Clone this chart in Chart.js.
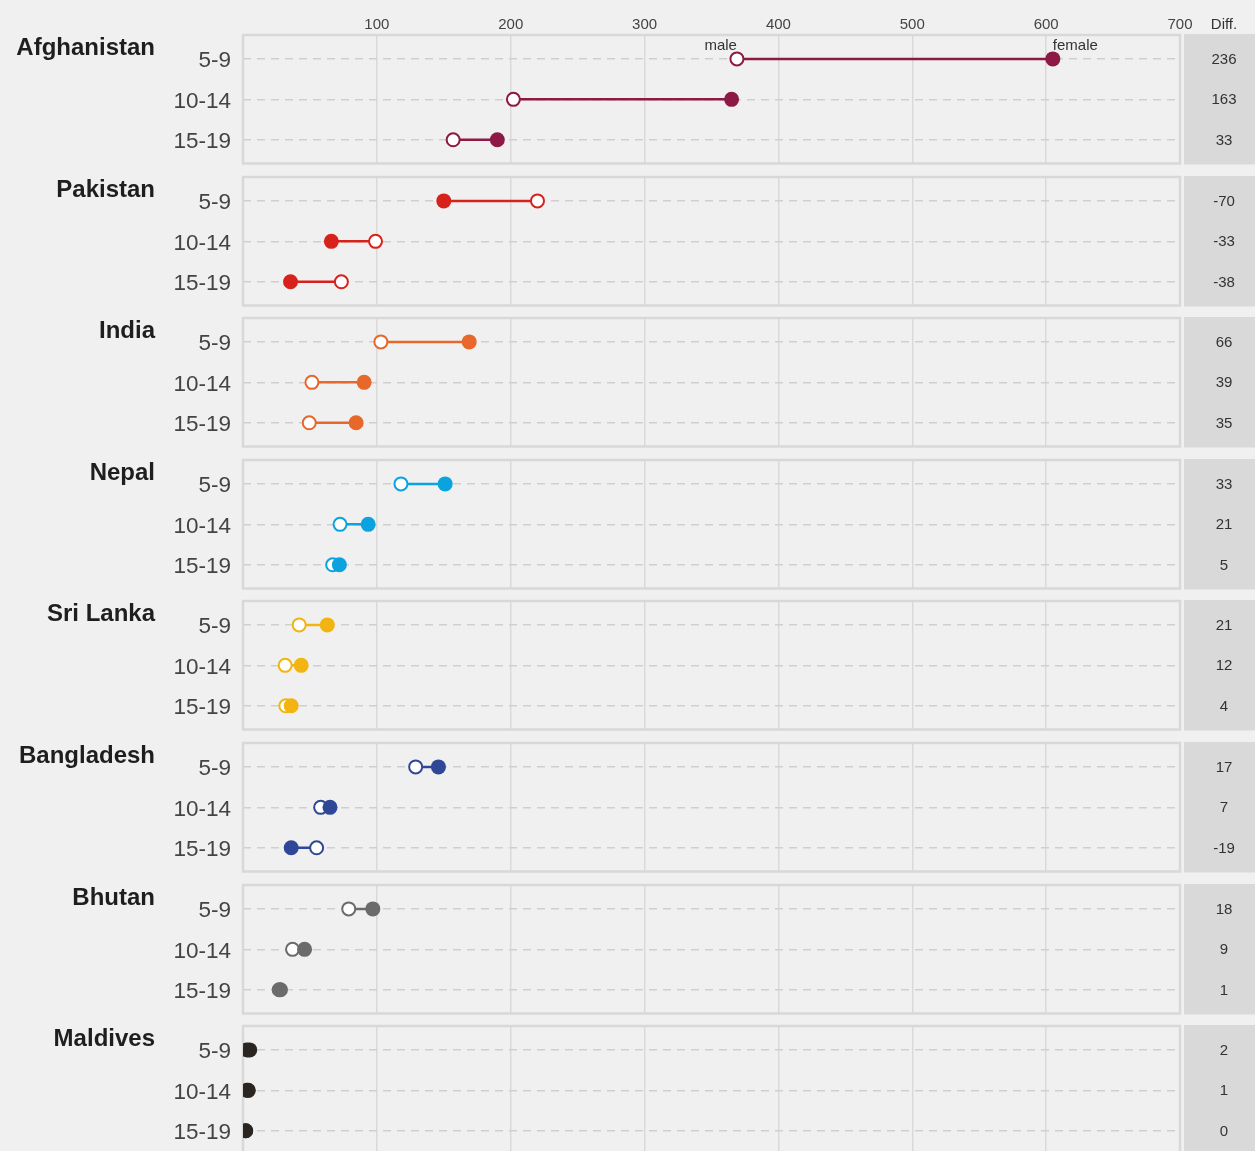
<!DOCTYPE html>
<html><head><meta charset="utf-8">
<script src="https://cdn.jsdelivr.net/npm/chart.js@4/dist/chart.umd.min.js"></script>
<style>
html,body{margin:0;padding:0;background:#f0f0f0;width:1255px;height:1151px;overflow:hidden;}
.p{position:absolute;left:0;width:1255px;height:189px;}
canvas{display:block;}
</style></head><body>
<script>
// ---- data ----
const countries = ['Afghanistan','Pakistan','India','Nepal','Sri Lanka','Bangladesh','Bhutan','Maldives'];
const ageGroups = ['5-9','10-14','15-19'];
const xTickValues = [0,100,200,300,400,500,600,700];
const seriesNames = ['male','female'];
const diffHeader = 'Diff.';

const afghanistanMale   = [369, 202, 157];
const afghanistanFemale = [605, 365, 190];
const pakistanMale      = [220, 99, 73.5];
const pakistanFemale    = [150, 66, 35.5];
const indiaMale         = [103, 51.5, 49.5];
const indiaFemale       = [169, 90.5, 84.5];
const nepalMale         = [118, 72.5, 67];
const nepalFemale       = [151, 93.5, 72];
const sriLankaMale      = [42, 31.5, 32];
const sriLankaFemale    = [63, 43.5, 36];
const bangladeshMale    = [129, 58, 55];
const bangladeshFemale  = [146, 65, 36];
const bhutanMale        = [79, 37, 27];
const bhutanFemale      = [97, 46, 28];
const maldivesMale      = [3, 3, 2];
const maldivesFemale    = [5, 4, 2];

const diffLabels = [
  ['236','163','33'],
  ['-70','-33','-38'],
  ['66','39','35'],
  ['33','21','5'],
  ['21','12','4'],
  ['17','7','-19'],
  ['18','9','1'],
  ['2','1','0']
];

const maleSeries   = [afghanistanMale, pakistanMale, indiaMale, nepalMale, sriLankaMale, bangladeshMale, bhutanMale, maldivesMale];
const femaleSeries = [afghanistanFemale, pakistanFemale, indiaFemale, nepalFemale, sriLankaFemale, bangladeshFemale, bhutanFemale, maldivesFemale];
const countryColors = ['#8c1a44','#d7221c','#e8672a','#0aa3e0','#f1b411','#2f4797','#6b6b6b','#2b2522'];

// ---- layout ----
const FONT = '"Liberation Sans", Arial, Helvetica, sans-serif';
const PANEL_TOP0 = 35, PANEL_PITCH = 141.6, PANEL_H = 129, TOP_SPACE = 35, BOTTOM_SPACE = 25;
const CANVAS_H = TOP_SPACE + PANEL_H + BOTTOM_SPACE;
const AREA_LEFT = 243, AREA_RIGHT = 1180, DIFF_LEFT = 1184, DIFF_RIGHT = 1255, DIFF_X = 1224;

countries.forEach((country, k) => {
  const panelTop = Math.round(PANEL_TOP0 + k * PANEL_PITCH);
  const div = document.createElement('div');
  div.className = 'p';
  div.style.top = (panelTop - TOP_SPACE) + 'px';
  const cv = document.createElement('canvas');
  cv.width = 1255; cv.height = CANVAS_H;
  div.appendChild(cv);
  document.body.appendChild(div);

  const color = countryColors[k];
  const male = maleSeries[k], female = femaleSeries[k];

  const panelPlugin = {
    id: 'panel' + k,
    beforeDatasetsDraw(chart) {
      const ctx = chart.ctx, a = chart.chartArea;
      ctx.save();
      ctx.strokeStyle = '#d8d8d8';
      ctx.lineWidth = 2.5;
      ctx.strokeRect(a.left, a.top, a.right - a.left, a.bottom - a.top);
      ctx.restore();
    },
    afterDraw(chart) {
      const ctx = chart.ctx, a = chart.chartArea;
      const ys = chart.scales.y, xs = chart.scales.x;
      ctx.save();
      // diff column
      ctx.fillStyle = '#d9d9d9';
      ctx.fillRect(DIFF_LEFT, a.top - 1, DIFF_RIGHT - DIFF_LEFT, a.bottom - a.top + 2);
      ctx.fillStyle = '#333';
      ctx.font = '15px ' + FONT;
      ctx.textAlign = 'center';
      ctx.textBaseline = 'middle';
      diffLabels[k].forEach((t, i) => ctx.fillText(t, DIFF_X, ys.getPixelForValue(i) + 1));
      // country name
      ctx.fillStyle = '#1e1e1e';
      ctx.font = 'bold 24px ' + FONT;
      ctx.textAlign = 'right';
      ctx.textBaseline = 'alphabetic';
      ctx.fillText(country, 155, a.top + 20);
      if (k === 0) {
        ctx.fillStyle = '#333';
        ctx.font = '15px ' + FONT;
        ctx.textAlign = 'center';
        ctx.fillText(diffHeader, DIFF_X, 29);
        const rowY = ys.getPixelForValue(0);
        ctx.textAlign = 'right';
        ctx.fillText(seriesNames[0], xs.getPixelForValue(male[0]), rowY - 9);
        ctx.textAlign = 'left';
        ctx.fillText(seriesNames[1], xs.getPixelForValue(female[0]), rowY - 9);
      }
      ctx.restore();
    }
  };

  const lineSets = ageGroups.map((g, i) => ({
    type: 'line',
    data: [{x: male[i], y: i}, {x: female[i], y: i}],
    borderColor: color,
    borderWidth: 2.5,
    pointRadius: 0,
    fill: false,
    order: 2
  }));

  new Chart(cv, {
    type: 'scatter',
    data: {
      datasets: [
        {
          label: seriesNames[1],
          data: female.map((v, i) => ({x: v, y: i})),
          pointRadius: 7.5,
          pointHoverRadius: 7.5,
          backgroundColor: color,
          borderColor: color,
          borderWidth: 0,
          order: 0
        },
        {
          label: seriesNames[0],
          data: male.map((v, i) => ({x: v, y: i})),
          pointRadius: 6.5,
          pointHoverRadius: 6.5,
          backgroundColor: '#ffffff',
          borderColor: color,
          borderWidth: 2,
          order: 1
        },
        ...lineSets
      ]
    },
    options: {
      responsive: false,
      animation: false,
      events: [],
      devicePixelRatio: 1,
      layout: {padding: {left: 0, top: 0, right: 1255 - AREA_RIGHT, bottom: 0}},
      plugins: {legend: {display: false}, tooltip: {enabled: false}},
      scales: {
        x: {
          type: 'linear',
          position: 'top',
          min: 0, max: 700,
          afterBuildTicks: s => { s.ticks = xTickValues.map(v => ({value: v})); },
          afterFit: s => { s.height = TOP_SPACE; },
          ticks: {
            display: k === 0,
            color: '#444',
            font: {size: 15, family: FONT},
            padding: 1,
            maxRotation: 0,
            callback: v => (v === 0 ? '' : String(v))
          },
          grid: {color: '#d9d9d9', lineWidth: 1.5, drawTicks: false},
          border: {display: false}
        },
        y: {
          type: 'linear',
          reverse: true,
          min: -0.591, max: 2.586,
          afterBuildTicks: s => { s.ticks = ageGroups.map((g, i) => ({value: i})); },
          afterFit: s => { s.width = AREA_LEFT; },
          ticks: {
            color: '#444',
            font: {size: 22.5, family: FONT},
            padding: 12,
            labelOffset: 2,
            autoSkip: false,
            callback: v => ageGroups[v]
          },
          grid: {color: '#cfcfcf', lineWidth: 1.5, drawTicks: false},
          border: {display: false, dash: [8, 6]}
        }
      }
    },
    plugins: [panelPlugin]
  });
});
</script>
</body></html>
